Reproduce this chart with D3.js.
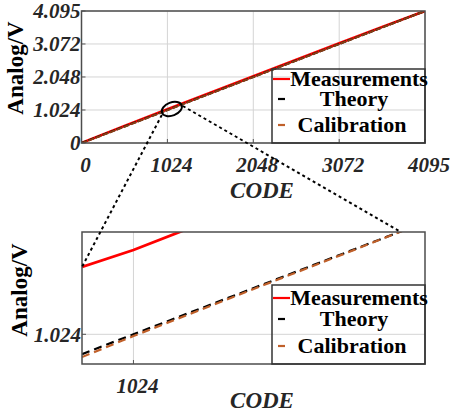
<!DOCTYPE html>
<html><head><meta charset="utf-8">
<script src="https://cdn.jsdelivr.net/npm/d3@7/dist/d3.min.js"></script>
<style>body{margin:0;background:#fff}svg{display:block}</style>
</head><body><svg id="c" width="454" height="412"></svg>
<script>
// ---- data (top, full range) ----
const codes = [0, 512, 1024, 1536, 2048, 2560, 3072, 3584, 4095];
const theory = [0, 0.512, 1.024, 1.536, 2.048, 2.560, 3.072, 3.584, 4.095];
const measurements = [0.004, 0.532, 1.046, 1.557, 2.070, 2.581, 3.092, 3.603, 4.095];
const calibration = [-0.008, 0.505, 1.019, 1.532, 2.045, 2.557, 3.070, 3.582, 4.093];
const xTicks = [0, 1024, 2048, 3072, 4095];
const yTicks = [0, 1.024, 2.048, 3.072, 4.095];
const yTickLabels = ["0", "1.024", "2.048", "3.072", "4.095"];

// ---- data (bottom, zoomed window) ----
const zoomDomainX = [994, 1194];
const zoomDomainY = [0.979, 1.179];
const zCodesMeas = [994, 1024, 1060];
const zMeasurements = [1.126, 1.1517, 1.1882];
const zCodes = [994, 1024, 1050, 1100, 1150, 1180, 1194];
const zTheory = [0.994, 1.024, 1.050, 1.100, 1.150, 1.180, 1.194];
const zCalibration = [0.9895, 1.0213, 1.0478, 1.0986, 1.1491, 1.1798, 1.1940];
const zXTicks = [1024];
const zYTicks = [1.024];
const zoomCenter = [1077, 1.055];

const legendNames = ["Measurements", "Theory", "Calibration"];
const colors = {meas: "#ff0000", theory: "#000000", calib: "#c0602a"};

const svg = d3.select("#c");
const serif = "Liberation Serif";

function txt(sel, size, italic, fill) {
  return sel.style("font-family", serif).style("font-weight", "bold")
    .style("font-style", italic ? "italic" : "normal")
    .style("font-size", size + "px").attr("fill", fill);
}

function panel(o) {
  const g = svg.append("g");
  const x = d3.scaleLinear().domain(o.xd).range([o.l, o.r]);
  const y = d3.scaleLinear().domain(o.yd).range([o.b, o.t]);
  const clipId = "clip" + o.id;
  svg.append("clipPath").attr("id", clipId).append("rect")
    .attr("x", o.l).attr("y", o.t).attr("width", o.r - o.l).attr("height", o.b - o.t);
  g.selectAll(".gx").data(o.xt).join("line")
    .attr("x1", d => x(d)).attr("x2", d => x(d)).attr("y1", o.t).attr("y2", o.b)
    .attr("stroke", "#d4d4d4").attr("stroke-width", 1);
  g.selectAll(".gy").data(o.yt).join("line")
    .attr("y1", d => y(d)).attr("y2", d => y(d)).attr("x1", o.l).attr("x2", o.r)
    .attr("stroke", "#d4d4d4").attr("stroke-width", 1);
  g.selectAll(".tx").data(o.xt).join("line")
    .attr("x1", d => x(d)).attr("x2", d => x(d)).attr("y1", o.b).attr("y2", o.b - 4)
    .attr("stroke", "#555").attr("stroke-width", 1);
  g.selectAll(".ty").data(o.yt).join("line")
    .attr("y1", d => y(d)).attr("y2", d => y(d)).attr("x1", o.l).attr("x2", o.l + 4)
    .attr("stroke", "#555").attr("stroke-width", 1);
  const lg = g.append("g").attr("clip-path", `url(#${clipId})`);
  const line = (xs, ys) => d3.line().x((d, i) => x(xs[i])).y((d, i) => y(ys[i]))(ys);
  lg.append("path").attr("d", line(o.mx, o.my)).attr("fill", "none")
    .attr("stroke", colors.meas).attr("stroke-width", o.lw + 0.6);
  lg.append("path").attr("d", line(o.tx, o.ty)).attr("fill", "none")
    .attr("stroke", colors.theory).attr("stroke-width", o.lw).attr("stroke-dasharray", o.dash);
  lg.append("path").attr("d", line(o.tx, o.cy)).attr("fill", "none")
    .attr("stroke", o.calColor).attr("stroke-width", o.lw).attr("stroke-dasharray", o.dash)
    .attr("stroke-dashoffset", o.calOff);
  g.append("rect").attr("x", o.l).attr("y", o.t).attr("width", o.r - o.l).attr("height", o.b - o.t)
    .attr("fill", "none").attr("stroke", "#4d4d4d").attr("stroke-width", 1.5);
  txt(g.selectAll(".lx").data(o.xt).join("text")
    .attr("x", d => x(d) + 4).attr("y", o.b + 29).attr("text-anchor", "middle"), 21, true, "#262626")
    .text((d, i) => o.xl[i]);
  txt(g.selectAll(".ly").data(o.yt).join("text")
    .attr("x", o.l - 1).attr("y", d => y(d)).attr("dy", "0.35em").attr("text-anchor", "end"), 21, true, "#262626")
    .text((d, i) => o.yl[i]);
  txt(g.append("text").attr("x", 262).attr("y", o.codeY).attr("text-anchor", "middle"), 23, true, "#262626")
    .text("CODE");
  txt(g.append("text").attr("transform", `translate(${o.ylabX},${o.ylabY}) rotate(-90)`)
    .attr("text-anchor", "middle"), 23, false, "#000").text("Analog/V");
  const L = o.leg;
  g.append("rect").attr("x", L.x).attr("y", L.y).attr("width", L.w).attr("height", L.h)
    .attr("fill", "none").attr("stroke", "#333").attr("stroke-width", 1.5);
  const legCols = [colors.meas, colors.theory, colors.calib];
  const legTextX = [359, 354, 352];
  legendNames.forEach((n, i) => {
    const cy = L.y + L.rows[i];
    if (i === 0) {
      g.append("line").attr("x1", L.x + 1).attr("x2", L.x + 18).attr("y1", cy).attr("y2", cy)
        .attr("stroke", legCols[i]).attr("stroke-width", 2.2);
    } else {
      g.append("line").attr("x1", L.x + 6).attr("x2", L.x + 13).attr("y1", cy).attr("y2", cy)
        .attr("stroke", legCols[i]).attr("stroke-width", 2.2);
    }
    txt(g.append("text").attr("x", legTextX[i]).attr("y", cy).attr("dy", "0.33em")
      .attr("text-anchor", "middle"), 22, false, "#000").text(n);
  });
  return {x, y};
}

const topPanel = panel({
  id: 1, l: 81.5, r: 425, t: 11, b: 143,
  xd: [0, 4095], yd: [0, 4.095],
  xt: xTicks, yt: yTicks, xl: xTicks.map(String), yl: yTickLabels,
  mx: codes, my: measurements, tx: codes, ty: theory, cy: calibration,
  lw: 2, dash: "6,1.5", calOff: 0, calColor: "#8a3d14",
  codeY: 198, ylabX: 23, ylabY: 68,
  leg: {x: 272, y: 69, w: 153, h: 74, rows: [10, 30, 56]}
});

const botPanel = panel({
  id: 2, l: 82, r: 425, t: 232, b: 364,
  xd: zoomDomainX, yd: zoomDomainY,
  xt: zXTicks, yt: zYTicks, xl: ["1024"], yl: ["1.024"],
  mx: zCodesMeas, my: zMeasurements, tx: zCodes, ty: zTheory, cy: zCalibration,
  lw: 2.2, dash: "8,5", calOff: 0, calColor: colors.calib,
  codeY: 408, ylabX: 27, ylabY: 290,
  leg: {x: 272, y: 285, w: 153, h: 79, rows: [13, 34, 61]}
});

const ex = topPanel.x(zoomCenter[0]), ey = topPanel.y(zoomCenter[1]);
svg.append("ellipse").attr("cx", ex).attr("cy", ey).attr("rx", 10.5).attr("ry", 6.5)
  .attr("transform", `rotate(-21,${ex},${ey})`)
  .attr("fill", "none").attr("stroke", "#000").attr("stroke-width", 2);
svg.append("line").attr("x1", ex - 10).attr("y1", ey + 6)
  .attr("x2", botPanel.x(zCodesMeas[0])).attr("y2", botPanel.y(zMeasurements[0]))
  .attr("stroke", "#000").attr("stroke-width", 2).attr("stroke-dasharray", "3,3");
svg.append("line").attr("x1", ex + 11).attr("y1", ey - 3)
  .attr("x2", botPanel.x(zCodes[5])).attr("y2", botPanel.y(zoomDomainY[1]))
  .attr("stroke", "#000").attr("stroke-width", 2).attr("stroke-dasharray", "3,3");
</script>
</body></html>
